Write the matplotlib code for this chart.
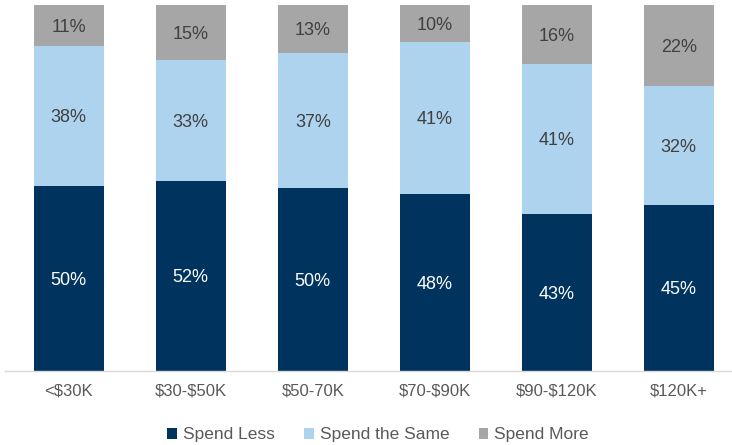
import numpy as np
import matplotlib.pyplot as plt
from matplotlib.patches import Patch

plt.rcParams['font.family'] = ['Liberation Sans', 'DejaVu Sans']
plt.rcParams['text.parse_math'] = False

income_groups = ["<$30K", "$30-$50K", "$50-70K", "$70-$90K", "$90-$120K", "$120K+"]
spend_less = [50, 52, 50, 48, 43, 45]
spend_same = [38, 33, 37, 41, 41, 32]
spend_more = [11, 15, 13, 10, 16, 22]

series = [
    ("Spend Less", spend_less, "#00345f", "white"),
    ("Spend the Same", spend_same, "#add3ef", "#404040"),
    ("Spend More", spend_more, "#a6a6a6", "#404040"),
]

# 100% stacked: each column scaled to its own total
totals = np.array(spend_less) + np.array(spend_same) + np.array(spend_more)

fig = plt.figure(figsize=(7.32, 4.45), dpi=100)
ax = fig.add_axes([5 / 732, 74 / 445, 727 / 732, 366 / 445])

x = np.arange(len(income_groups))
bottom = np.zeros(len(x))
for name, vals, color, txt in series:
    h = np.array(vals) / totals * 100
    ax.bar(x, h, 0.578, bottom=bottom, color=color, label=name)
    for xi, b, hi, v in zip(x, bottom, h, vals):
        ax.text(xi, b + hi / 2, f"{v}%", ha="center", va="center_baseline",
                fontsize=13, color=txt)
    bottom += h

ax.set_xlim(-0.523, 5.436)
ax.set_ylim(0, 100)
ax.set_yticks([])
ax.set_xticks(x)
ax.set_xticklabels(income_groups, fontsize=12, color="#595959")
ax.tick_params(axis="x", length=0, pad=9)
for side in ["top", "left", "right"]:
    ax.spines[side].set_visible(False)
ax.spines["bottom"].set_color("#d9d9d9")
ax.spines["bottom"].set_linewidth(1)

handles = [Patch(facecolor=c, label=n) for n, _, c, _ in series]
fig.legend(handles=handles, loc="center", bbox_to_anchor=(378 / 732, 1 - 435 / 445),
           ncol=3, frameon=False, fontsize=12.5, handlelength=0.55, handleheight=0.55,
           handletextpad=0.35, columnspacing=1.7, labelcolor="#595959")

fig.savefig("out.png", dpi=100)
